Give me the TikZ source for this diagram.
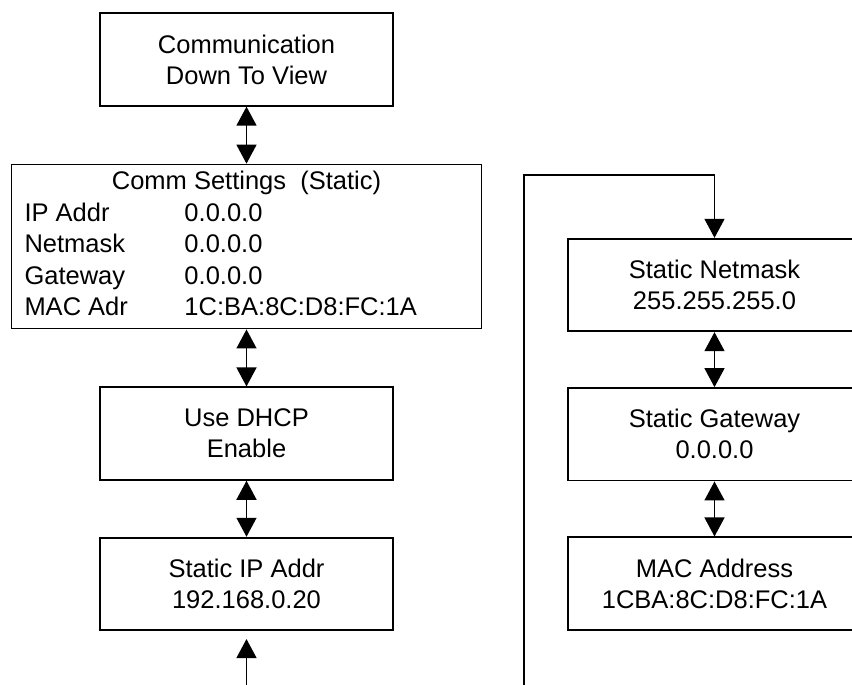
\documentclass[tikz,border=0pt]{standalone}
\usepackage{fontspec}
\setmainfont{Liberation Sans}
\usepackage{array}
\usetikzlibrary{positioning,arrows.meta}
\tikzset{
  box/.style={draw, line width=1.8pt, minimum width=293pt, minimum height=92.5pt,
    inner sep=0pt, align=center, font=\fontsize{25.5}{31}\selectfont},
  link/.style={line width=1.4pt, {Triangle[length=19pt,width=20pt]}-{Triangle[length=19pt,width=20pt]}},
  feed/.style={line width=1.4pt, -{Triangle[length=19pt,width=20pt]}}
}
\begin{document}
\begin{tikzpicture}[x=1pt,y=-1pt]
\useasboundingbox (0,0) rectangle (852,685);
% left column
\node[box] (commdown) at (246.5,59.5) {Communication\\Down To View};
\node[box, minimum width=470pt, minimum height=164pt, below=57pt of commdown] (settings) {%
  \fontsize{25.5}{31.5}\selectfont
  \begin{tabular}{@{}p{160pt}@{}p{284pt}@{}}
  \multicolumn{2}{@{}c@{}}{Comm Settings\ \ (Static)}\\
  IP Addr & 0.0.0.0\\
  Netmask & 0.0.0.0\\
  Gateway & 0.0.0.0\\
  MAC Adr & 1C:BA:8C:D8:FC:1A
  \end{tabular}};
\node[box, below=57pt of settings] (dhcp) {Use DHCP\\Enable};
\node[box, below=56pt of dhcp] (staticip) {Static IP Addr\\192.168.0.20};
% right column
\node[box] (netmask) at (714.5,285) {Static Netmask\\255.255.255.0};
\node[box, below=55pt of netmask] (gateway) {Static Gateway\\0.0.0.0};
\node[box, below=55pt of gateway] (macaddr) {MAC Address\\1CBA:8C:D8:FC:1A};
\coordinate (ipin) at (246.5,685);
\coordinate (loopin) at (524,685);
\coordinate (looptop) at (524,175);
\draw[link] (commdown) -- (settings);
\draw[link] (settings) -- (dhcp);
\draw[link] (dhcp) -- (staticip);
\draw[feed, shorten >=8pt] (ipin) -- (staticip);
\draw[link] (netmask) -- (gateway);
\draw[link] (gateway) -- (macaddr);
\draw[feed] (loopin) -- (looptop) -| (netmask.north);
\end{tikzpicture}
\end{document}
